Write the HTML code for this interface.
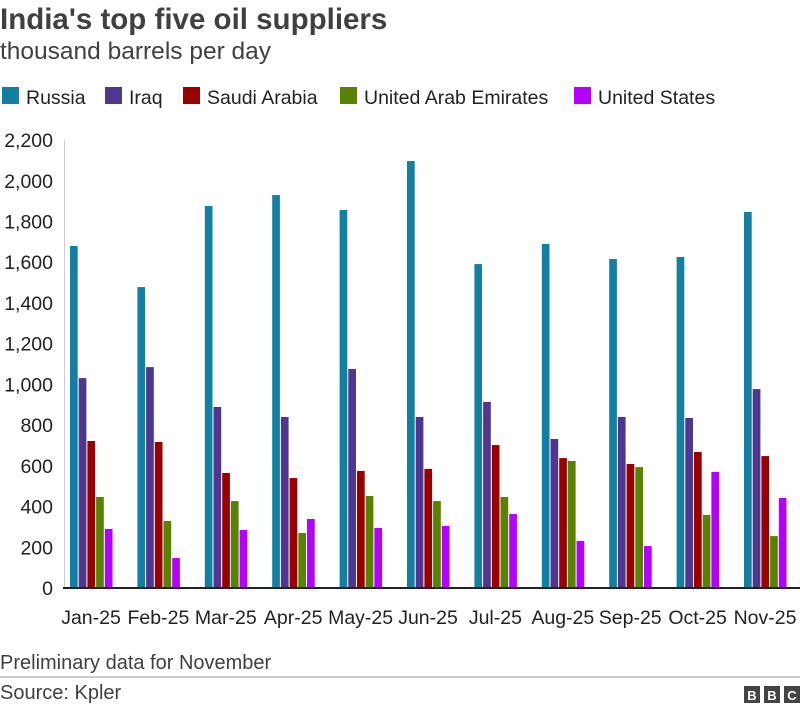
<!DOCTYPE html>
<html><head><meta charset="utf-8"><style>
body{margin:0;background:#fff;font-family:"Liberation Sans",Arial,sans-serif;}
</style></head><body>
<svg width="800" height="711" xmlns="http://www.w3.org/2000/svg" font-family="Liberation Sans, Arial, sans-serif">
<text x="0" y="29" font-size="29.5" font-weight="bold" fill="#404040">India's top five oil suppliers</text>
<text x="0" y="59" font-size="24.5" fill="#404040">thousand barrels per day</text>
<g font-size="19.5" fill="#222">
<rect x="2" y="87" width="17" height="17" fill="#1380A1"/><text x="26" y="104">Russia</text>
<rect x="105" y="87" width="17" height="17" fill="#4f3690"/><text x="129" y="104">Iraq</text>
<rect x="183" y="87" width="17" height="17" fill="#990000"/><text x="207" y="104">Saudi Arabia</text>
<rect x="340" y="87" width="17" height="17" fill="#588300"/><text x="364" y="104">United Arab Emirates</text>
<rect x="574" y="87" width="17" height="17" fill="#b300ff"/><text x="598" y="104">United States</text>
</g>
<line x1="64.5" y1="140" x2="64.5" y2="588" stroke="#ccc" stroke-width="1"/>
<g font-size="19.5" fill="#222" text-anchor="end" id="yt"></g>
<g id="bars"></g>
<line x1="63" y1="588" x2="800" y2="588" stroke="#222" stroke-width="2"/>
<g font-size="19.5" fill="#222" text-anchor="middle" id="xl"></g>
<text x="0" y="669" font-size="20" fill="#404040">Preliminary data for November</text>
<line x1="0" y1="677" x2="800" y2="677" stroke="#999" stroke-width="1"/>
<text x="0" y="699" font-size="20" fill="#404040">Source: Kpler</text>
<g font-size="13" font-weight="bold" fill="#fff" text-anchor="middle">
<rect x="744" y="686" width="16" height="17" fill="#444"/><text x="752" y="700">B</text>
<rect x="764" y="686" width="16" height="17" fill="#444"/><text x="772" y="700">B</text>
<rect x="784" y="686" width="16" height="17" fill="#444"/><text x="792" y="700">C</text>
</g>
<script>
var ns="http://www.w3.org/2000/svg";
function el(p,t,a,txt){var e=document.createElementNS(ns,t);for(var k in a)e.setAttribute(k,a[k]);if(txt!=null)e.textContent=txt;p.appendChild(e);}
var yt=document.getElementById('yt');
for(var v=0;v<=2200;v+=200){var y=588-v*0.2036;el(yt,'text',{x:53,y:y+7},v.toLocaleString('en-US'));}
var d=[[1680,1031,722,447,290],[1478,1085,717,329,147],[1876,889,565,427,285],[1930,840,540,270,339],[1857,1076,575,452,295],[2097,840,585,427,305],[1591,914,702,447,363],[1690,732,638,624,231],[1616,840,609,594,206],[1626,835,668,359,570],[1847,977,648,255,442]];
var c=["#1380A1","#4f3690","#990000","#588300","#b300ff"];
var m=["Jan-25","Feb-25","Mar-25","Apr-25","May-25","Jun-25","Jul-25","Aug-25","Sep-25","Oct-25","Nov-25"];
var b=document.getElementById('bars'),xl=document.getElementById('xl');
d.forEach(function(g,i){var x0=70+67.4*i;g.forEach(function(v,j){var h=v*0.2036;el(b,'rect',{x:x0+j*8.7,y:588-h,width:7.7,height:h,fill:c[j]});});el(xl,'text',{x:x0+21,y:624},m[i]);});
</script>
</svg>
</body></html>
